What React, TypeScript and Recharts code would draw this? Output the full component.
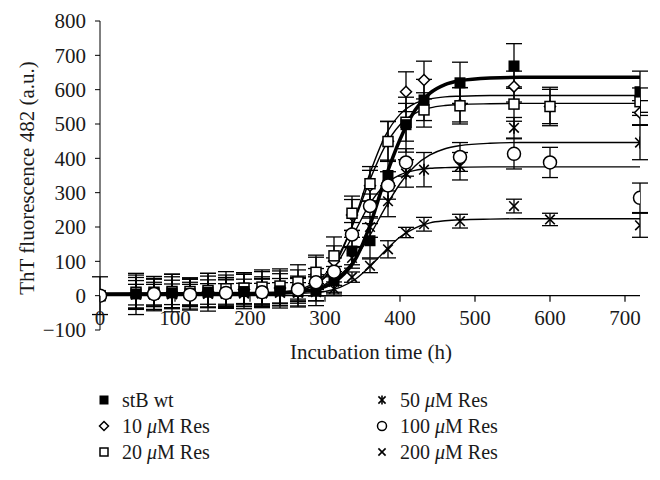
import React from 'react';
import {
  ComposedChart,
  Line,
  Scatter,
  ErrorBar,
  XAxis,
  YAxis,
  ReferenceLine,
} from 'recharts';

// measured points
const TIMES = [0, 48, 72, 96, 120, 144, 168, 192, 216, 240, 264, 288, 312, 336, 360, 384, 408, 432, 480, 552, 600, 720];

const WT_V = [0, 5, 6, 8, 6, 10, 8, 12, 10, 14, 12, 16, 45, 130, 160, 350, 498, 570, 620, 669, null, 594];
const WT_E = [55, 60, 50, 55, 45, 55, 45, 50, 45, 50, 45, 45, 40, 40, 50, 45, 80, 60, 60, 65, 0, 60];
const D10_V = [0, 8, 8, 10, 8, 12, 15, 18, 20, 22, 30, 62, 100, 235, 320, 450, 594, 628, 556, 609, 551, 533];
const D10_E = [0, 45, 40, 45, 40, 45, 45, 45, 50, 50, 45, 50, 45, 45, 45, 58, 58, 55, 50, 45, 50, 35];
const S20_V = [0, 10, 10, 12, 12, 15, 20, 22, 25, 28, 40, 68, 116, 240, 326, 449, 505, 541, 553, 558, 551, 565];
const S20_E = [0, 50, 40, 50, 40, 50, 50, 45, 50, 50, 50, 50, 55, 50, 50, 58, 55, 50, 53, 50, 56, 40];
const A50_V = [0, 4, 4, 5, 4, 6, 6, 8, 8, 10, 10, 20, 40, 110, 200, 275, 356, 367, 377, 489, null, 446];
const A50_E = [0, 40, 35, 40, 35, 40, 40, 40, 40, 40, 40, 35, 30, 30, 30, 45, 40, 50, 40, 30, 0, 50];
const C100_V = [0, null, 5, null, 3, null, 8, null, 10, null, 18, 39, 70, 178, 261, 321, 388, null, 404, 413, 388, 285];
const C100_E = [0, 0, 45, 0, 45, 0, 40, 0, 40, 0, 35, 40, 40, 35, 35, 40, 40, 0, 42, 44, 44, 43];
const X200_V = [0, 3, 3, 4, 3, 5, 5, 6, 6, 8, 8, 10, 20, 54, 87, 135, 184, 208, 217, 261, 222, 205];
const X200_E = [0, 30, 30, 30, 30, 30, 30, 30, 30, 30, 30, 25, 20, 15, 20, 25, 15, 20, 20, 20, 18, 35];

// fitted curves
const FIT_T = [0, 200, 260, 280, 300, 320, 340, 360, 380, 400, 420, 440, 460, 480, 520, 560, 600, 720];
const WT_FIT = [5, 6, 10, 16, 26, 52, 104, 205, 340, 455, 540, 590, 615, 626, 634, 636, 636, 636];
const D10_FIT = [5, 6, 12, 25, 55, 119, 226, 357, 464, 528, 560, 573, 579, 581, 583, 583, 583, 583];
const S20_FIT = [5, 6, 15, 30, 62, 125, 222, 338, 435, 498, 531, 547, 554, 557, 559, 560, 560, 560];
const A50_FIT = [5, 5, 9, 17, 33, 60, 108, 176, 255, 326, 378, 410, 428, 437, 444, 446, 446, 446];
const C100_FIT = [5, 6, 12, 25, 53, 108, 187, 268, 323, 352, 365, 371, 373, 374, 375, 375, 375, 375];
const X200_FIT = [5, 5, 6, 8, 12, 24, 47, 85, 130, 171, 197, 212, 218, 221, 223, 224, 224, 224];

const X_TICKS = [0, 100, 200, 300, 400, 500, 600, 700];
const Y_TICKS = [-100, 0, 100, 200, 300, 400, 500, 600, 700, 800];

const FONT = '"Liberation Serif", "DejaVu Serif", serif';
const AXIS_FS = 21;
const PLOT_TOP = 21;
const PLOT_BOTTOM = 330;
const ZERO_Y = PLOT_BOTTOM - ((PLOT_BOTTOM - PLOT_TOP) * 100) / 900;

type Marker = 'filledSquare' | 'diamond' | 'square' | 'asterisk' | 'circle' | 'cross';

function MarkerShape({ kind, cx, cy, s }: { kind: Marker; cx: number; cy: number; s: number }) {
  const h = s / 2;
  switch (kind) {
    case 'filledSquare':
      return <rect x={cx - h} y={cy - h} width={s} height={s} fill="#000" />;
    case 'diamond':
      return (
        <polygon
          points={`${cx},${cy - h} ${cx + h},${cy} ${cx},${cy + h} ${cx - h},${cy}`}
          fill="#fff"
          stroke="#000"
          strokeWidth={1.5}
        />
      );
    case 'square':
      return <rect x={cx - h + 0.5} y={cy - h + 0.5} width={s - 1} height={s - 1} fill="#fff" stroke="#000" strokeWidth={1.5} />;
    case 'asterisk':
      return (
        <g stroke="#000" strokeWidth={1.6}>
          <line x1={cx - h * 0.8} y1={cy - h * 0.8} x2={cx + h * 0.8} y2={cy + h * 0.8} />
          <line x1={cx - h * 0.8} y1={cy + h * 0.8} x2={cx + h * 0.8} y2={cy - h * 0.8} />
          <line x1={cx} y1={cy - h} x2={cx} y2={cy + h} />
        </g>
      );
    case 'circle':
      return <circle cx={cx} cy={cy} r={h} fill="#fff" stroke="#000" strokeWidth={1.5} />;
    default:
      return (
        <g stroke="#000" strokeWidth={1.6}>
          <line x1={cx - h * 0.8} y1={cy - h * 0.8} x2={cx + h * 0.8} y2={cy + h * 0.8} />
          <line x1={cx - h * 0.8} y1={cy + h * 0.8} x2={cx + h * 0.8} y2={cy - h * 0.8} />
        </g>
      );
  }
}

const SERIES = [
  { key: 'wt', name: 'stB wt', marker: 'filledSquare' as Marker, size: 11, v: WT_V, e: WT_E, fit: WT_FIT, width: 3.5 },
  { key: 'd10', name: '10', marker: 'diamond' as Marker, size: 11, v: D10_V, e: D10_E, fit: D10_FIT, width: 1.4 },
  { key: 's20', name: '20', marker: 'square' as Marker, size: 11, v: S20_V, e: S20_E, fit: S20_FIT, width: 1.4 },
  { key: 'a50', name: '50', marker: 'asterisk' as Marker, size: 12, v: A50_V, e: A50_E, fit: A50_FIT, width: 1.4 },
  { key: 'x200', name: '200', marker: 'cross' as Marker, size: 12, v: X200_V, e: X200_E, fit: X200_FIT, width: 1.4 },
  { key: 'c100', name: '100', marker: 'circle' as Marker, size: 13, v: C100_V, e: C100_E, fit: C100_FIT, width: 1.4 },
];

// filled squares sit above the open markers, circles on top of everything
const DRAW_ORDER = ['d10', 's20', 'a50', 'x200', 'wt', 'c100'];
const LEGEND_LEFT = ['wt', 'd10', 's20'];
const LEGEND_RIGHT = ['a50', 'c100', 'x200'];

function XTick({ x, payload }: any) {
  return (
    <g>
      <line x1={x} x2={x} y1={ZERO_Y} y2={ZERO_Y + 6} stroke="#000" strokeWidth={1.2} />
      <text x={x} y={ZERO_Y + 29} textAnchor="middle" fontFamily={FONT} fontSize={AXIS_FS} fill="#1a1a1a">
        {payload.value}
      </text>
    </g>
  );
}

function LegendLabel({ name }: { name: string }) {
  if (name === 'stB wt') return <span>stB wt</span>;
  return (
    <span>
      {name} <i>μ</i>M Res
    </span>
  );
}

function LegendColumn({ keys, left }: { keys: string[]; left: number }) {
  return (
    <div style={{ position: 'absolute', left, top: 387 }}>
      {keys.map((k) => {
        const s = SERIES.find((d) => d.key === k)!;
        return (
          <div key={k} style={{ display: 'flex', alignItems: 'center', height: 26 }}>
            <svg width={12} height={12} style={{ marginRight: 12 }}>
              <MarkerShape kind={s.marker} cx={6} cy={6} s={9} />
            </svg>
            <LegendLabel name={s.name} />
          </div>
        );
      })}
    </div>
  );
}

export default function App() {
  const ordered = DRAW_ORDER.map((k) => SERIES.find((s) => s.key === k)!);
  return (
    <div
      style={{
        position: 'absolute',
        left: 0,
        top: 0,
        width: 660,
        height: 480,
        background: '#fff',
        fontFamily: FONT,
        fontSize: 20,
        color: '#1a1a1a',
      }}
    >
      <ComposedChart width={660} height={480} margin={{ top: PLOT_TOP, right: 20, left: 0, bottom: 120 }}>
        <XAxis
          dataKey="t"
          type="number"
          domain={[0, 720]}
          ticks={X_TICKS}
          axisLine={false}
          tickLine={false}
          height={30}
          tick={<XTick />}
          allowDataOverflow
          label={{
            content: () => (
              <text x={371} y={359} textAnchor="middle" fontFamily={FONT} fontSize={AXIS_FS} fill="#1a1a1a">
                Incubation time (h)
              </text>
            ),
          }}
        />
        <YAxis
          type="number"
          domain={[-100, 800]}
          ticks={Y_TICKS}
          width={100}
          tickSize={5}
          tickMargin={9}
          stroke="#000"
          tick={{ fontFamily: FONT, fontSize: AXIS_FS, fill: '#1a1a1a' }}
          tickFormatter={(v: number) => String(v).replace('-', '−')}
          allowDataOverflow
          label={{
            content: () => (
              <text
                x={34}
                y={178}
                transform="rotate(-90 34 178)"
                textAnchor="middle"
                fontFamily={FONT}
                fontSize={AXIS_FS}
                fill="#1a1a1a"
              >
                ThT fluorescence 482 (a.u.)
              </text>
            ),
          }}
        />
        <ReferenceLine y={0} stroke="#000" strokeWidth={1.3} />
        {SERIES.map((s) => (
          <Line
            key={`fit-${s.key}`}
            data={FIT_T.map((t, i) => ({ t, v: s.fit[i] }))}
            dataKey="v"
            type="monotone"
            stroke="#000"
            strokeWidth={s.width}
            dot={false}
            activeDot={false}
            isAnimationActive={false}
          />
        ))}
        {ordered.map((s) => (
          <Scatter
            key={`pts-${s.key}`}
            data={TIMES.map((t, i) => ({ t, v: s.v[i], e: s.e[i] })).filter((p) => p.v !== null)}
            dataKey="v"
            isAnimationActive={false}
            shape={(p: any) => <MarkerShape kind={s.marker} cx={p.cx} cy={p.cy} s={s.size} />}
          >
            <ErrorBar dataKey="e" direction="y" width={8} stroke="#000" strokeWidth={1.3} isAnimationActive={false} />
          </Scatter>
        ))}
      </ComposedChart>
      <LegendColumn keys={LEGEND_LEFT} left={98} />
      <LegendColumn keys={LEGEND_RIGHT} left={376} />
    </div>
  );
}
